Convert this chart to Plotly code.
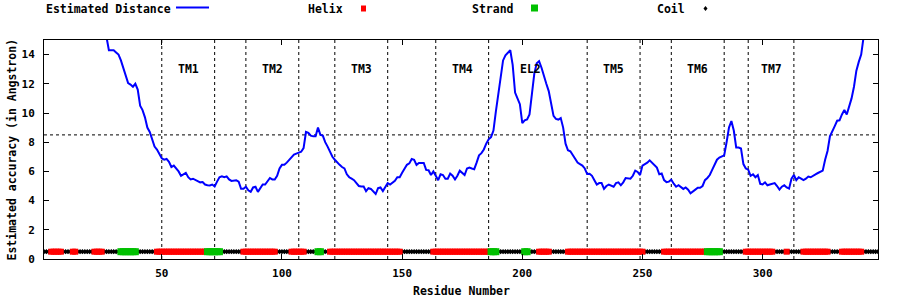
import plotly.graph_objects as go

# ---------------- data ----------------
first_residue = 1
last_residue = 348

# estimated distance per residue (1..348); values > 15 are off the top of the chart
distance = [
    21.5, 21.0, 20.6, 20.2, 19.9, 19.5, 19.2, 18.9, 18.6, 18.3,   # 1-10
    18.1, 17.9, 17.7, 17.5, 17.3, 17.1, 16.9, 16.7, 16.5, 16.3,   # 11-20
    16.1, 15.9, 15.7, 15.5, 15.4, 15.3, 15.2, 14.3, 14.3, 14.3,   # 21-30
    14.15, 14.0, 13.6, 13.1, 12.6, 12.05, 11.95, 11.8, 12.0, 11.6,  # 31-40
    10.5, 10.2, 9.7, 9.0, 8.7, 8.2, 7.7, 7.5, 7.2, 6.9,            # 41-50
    6.8, 6.85, 6.65, 6.3, 6.4, 6.2, 6.0, 5.7, 5.8, 5.9,            # 51-60
    5.6, 5.45, 5.5, 5.4, 5.3, 5.25, 5.27, 5.1, 5.05, 5.04,         # 61-70
    5.1, 4.97, 5.3, 5.6, 5.66, 5.6, 5.66, 5.45, 5.35, 5.38,        # 71-80
    5.39, 5.3, 4.81, 4.81, 4.95, 4.7, 4.6, 4.9, 4.95, 4.6,         # 81-90
    4.85, 5.1, 5.1, 5.3, 5.55, 5.45, 5.45, 5.7, 6.2, 6.45,         # 91-100
    6.45, 6.6, 6.8, 7.0, 7.15, 7.22, 7.27, 7.35, 7.6, 8.7,         # 101-110
    8.64, 8.45, 8.4, 8.4, 9.0, 8.5, 8.45, 8.0, 7.7, 7.3,           # 111-120
    7.0, 6.8, 6.6, 6.45, 6.3, 6.2, 5.8, 5.6, 5.5, 5.4,             # 121-130
    5.2, 5.0, 4.97, 4.97, 4.65, 4.85, 4.8, 4.6, 4.45, 4.85,        # 131-140
    4.9, 4.65, 4.9, 5.2, 5.1, 5.2, 5.35, 5.6, 5.6, 5.9,            # 141-150
    6.2, 6.45, 6.55, 6.85, 6.8, 6.45, 6.58, 6.58, 6.58, 6.1,       # 151-160
    6.08, 5.75, 6.0, 5.7, 5.4, 5.8, 5.75, 5.5, 5.5, 5.85,          # 161-170
    5.7, 5.45, 5.7, 6.05, 5.9, 5.75, 6.2, 6.26, 6.2, 6.15,         # 171-180
    6.6, 7.1, 7.25, 7.5, 7.9, 8.2, 8.35, 8.8, 10.1, 11.4,          # 181-190
    12.6, 13.6, 13.95, 14.15, 14.3, 13.3, 11.4, 11.0, 10.6, 9.3,   # 191-200
    9.5, 9.56, 9.9, 11.3, 12.7, 13.4, 13.55, 13.1, 12.45, 12.0,    # 201-210
    11.5, 10.5, 9.8, 9.6, 9.55, 9.65, 9.0, 7.9, 7.45, 7.38,        # 211-220
    7.1, 6.8, 6.6, 6.5, 6.4, 6.2, 5.82, 5.84, 5.7, 5.4,            # 221-230
    5.1, 5.2, 5.2, 4.8, 5.0, 5.1, 5.0, 4.95, 5.2, 5.25,            # 231-240
    5.05, 5.25, 5.55, 5.55, 5.5, 5.7, 6.05, 5.96, 5.75, 6.4,       # 241-250
    6.5, 6.6, 6.76, 6.6, 6.42, 6.26, 5.8, 5.85, 5.4, 5.27,         # 251-260
    5.3, 5.43, 5.16, 4.95, 5.05, 4.95, 4.8, 4.9, 4.75, 4.5,        # 261-270
    4.65, 4.75, 4.88, 4.88, 5.0, 5.4, 5.55, 5.75, 6.1, 6.5,        # 271-280
    6.8, 6.95, 7.0, 7.1, 8.0, 9.0, 9.45, 8.8, 7.64, 7.64,          # 281-290
    7.57, 6.5, 6.2, 6.12, 5.7, 5.8, 5.6, 5.75, 5.15, 5.11,         # 291-300
    5.25, 5.05, 5.1, 5.16, 5.2, 5.0, 4.75, 4.95, 5.05, 4.9,        # 301-310
    4.82, 5.5, 5.75, 5.4, 5.6, 5.5, 5.4, 5.5, 5.65, 5.6,           # 311-320
    5.72, 5.8, 5.89, 5.95, 6.05, 6.8, 7.4, 8.4, 8.7, 9.1,          # 321-330
    9.47, 9.5, 9.9, 10.2, 9.9, 10.5, 11.0, 11.8, 12.9, 13.5,       # 331-340
    14.0, 15.2, 16.0, 16.8, 17.5, 18.2, 18.9, 19.5,                # 341-348
]

# secondary-structure segments (residue ranges, inclusive); everything else is coil
helix_segments = [(4, 8), (13, 14), (22, 25), (48, 68), (84, 97), (104, 109),
                  (120, 149), (163, 186), (207, 211), (219, 250), (259, 276),
                  (293, 304), (310, 310), (317, 327), (333, 341)]
strand_segments = [(33, 39), (69, 74), (115, 116), (187, 189), (201, 202), (277, 282)]
ss_level = 0.5

# transmembrane region boundaries and labels
boundaries = [50, 72, 85, 107, 122, 144, 164, 186, 227, 249, 262, 284, 294, 313]
region_labels = ["TM1", "TM2", "TM3", "TM4", "EL2", "TM5", "TM6", "TM7"]
region_label_x = [61, 96, 133, 175, 203.5, 238, 273, 303.5]
region_label_y = 13
threshold = 8.5

x_ticks = [50, 100, 150, 200, 250, 300]
y_ticks = [0, 2, 4, 6, 8, 10, 12, 14]
y_max = 15

# ---------------- build ----------------
residues = list(range(first_residue, last_residue + 1))

helix_set = set()
for a, b in helix_segments:
    helix_set.update(range(a, b + 1))
strand_set = set()
for a, b in strand_segments:
    strand_set.update(range(a, b + 1))
helix_x = [r for r in residues if r in helix_set]
strand_x = [r for r in residues if r in strand_set]
coil_x = [r for r in residues if r not in helix_set and r not in strand_set]

FONT = "DejaVu Sans Mono"
W, H = 900, 300
ML, MR, MT, MB = 44, 22, 40, 41
PW, PH = W - ML - MR, H - MT - MB

def px_x(px):
    return (px - ML) / PW

def px_y(py):
    return 1 + (MT - py) / PH

fig = go.Figure()

fig.add_trace(go.Scatter(
    x=coil_x, y=[ss_level] * len(coil_x), mode="markers",
    marker=dict(symbol="diamond", size=4, color="black", line=dict(width=0)),
    name="Coil", showlegend=False, hoverinfo="skip"))
fig.add_trace(go.Scatter(
    x=helix_x, y=[ss_level] * len(helix_x), mode="markers",
    marker=dict(symbol="square", size=6, color="#ff0000", line=dict(width=0)),
    name="Helix", showlegend=False))
fig.add_trace(go.Scatter(
    x=strand_x, y=[ss_level] * len(strand_x), mode="markers",
    marker=dict(symbol="square", size=7, color="#00c000", line=dict(width=0)),
    name="Strand", showlegend=False))
fig.add_trace(go.Scatter(
    x=residues, y=distance, mode="lines",
    line=dict(color="#0000ff", width=2),
    name="Estimated Distance", showlegend=False))

shapes = []
for b in boundaries:
    shapes.append(dict(type="line", xref="x", yref="paper", x0=b, x1=b, y0=0, y1=1,
                       line=dict(color="black", width=1, dash="dot"), layer="below"))
shapes.append(dict(type="line", xref="paper", yref="y", x0=0, x1=1, y0=threshold, y1=threshold,
                   line=dict(color="black", width=1, dash="dot"), layer="below"))

# legend samples (paper coordinates)
shapes.append(dict(type="line", xref="paper", yref="paper", x0=px_x(176), x1=px_x(209),
                   y0=px_y(7.5), y1=px_y(7.5), line=dict(color="#0000ff", width=2)))
shapes.append(dict(type="rect", xref="paper", yref="paper", x0=px_x(361), x1=px_x(366),
                   y0=px_y(11.5), y1=px_y(5.5), fillcolor="#ff0000", line=dict(width=0)))
shapes.append(dict(type="rect", xref="paper", yref="paper", x0=px_x(531), x1=px_x(538),
                   y0=px_y(11.5), y1=px_y(4.5), fillcolor="#00c000", line=dict(width=0)))
shapes.append(dict(type="path", xref="paper", yref="paper",
                   path=f"M {px_x(703.5)} {px_y(8.5)} L {px_x(705.5)} {px_y(6)} L {px_x(707.5)} {px_y(8.5)} L {px_x(705.5)} {px_y(11)} Z",
                   fillcolor="black", line=dict(width=0)))

annotations = []
for lab, lx in zip(region_labels, region_label_x):
    annotations.append(dict(x=lx, y=region_label_y, xref="x", yref="y", text=lab, showarrow=False,
                            font=dict(family=FONT, size=11.5, color="black", weight="bold")))

legend_texts = [("Estimated Distance", 44), ("Helix", 306), ("Strand", 470), ("Coil", 655)]
for txt, px in legend_texts:
    annotations.append(dict(x=px_x(px), y=px_y(9), xref="paper", yref="paper", text=txt,
                            showarrow=False, xanchor="left", yanchor="middle",
                            font=dict(family=FONT, size=11.5, color="black", weight="bold")))

annotations.append(dict(x=0.5, y=0, xref="paper", yref="paper", text="Residue Number",
                        showarrow=False, xanchor="center", yanchor="middle", yshift=-32,
                        font=dict(family=FONT, size=11.5, color="black", weight="bold")))
annotations.append(dict(x=0, y=0.5, xref="paper", yref="paper",
                        text="Estimated accuracy (in Angstron)", textangle=-90,
                        showarrow=False, xanchor="center", yanchor="middle", xshift=-33,
                        font=dict(family=FONT, size=11.5, color="black", weight="bold")))

axis_font = dict(family=FONT, size=11, color="black", weight="bold")
fig.update_layout(
    width=W, height=H,
    margin=dict(l=ML, r=MR, t=MT, b=MB, pad=0),
    paper_bgcolor="white", plot_bgcolor="white",
    showlegend=False,
    shapes=shapes, annotations=annotations,
    xaxis=dict(range=[first_residue, last_residue], tickvals=x_ticks, ticks="inside",
               ticklen=5, tickcolor="black", mirror="ticks", showline=True, linecolor="black",
               linewidth=1, showgrid=False, zeroline=False, tickfont=axis_font,
               ticklabelstandoff=4),
    yaxis=dict(range=[0, y_max], tickvals=y_ticks, ticks="inside", ticklen=5,
               tickcolor="black", mirror="ticks", showline=True, linecolor="black",
               linewidth=1, showgrid=False, zeroline=False, tickfont=axis_font,
               ticklabelstandoff=6),
)

fig.write_html("out.html")
